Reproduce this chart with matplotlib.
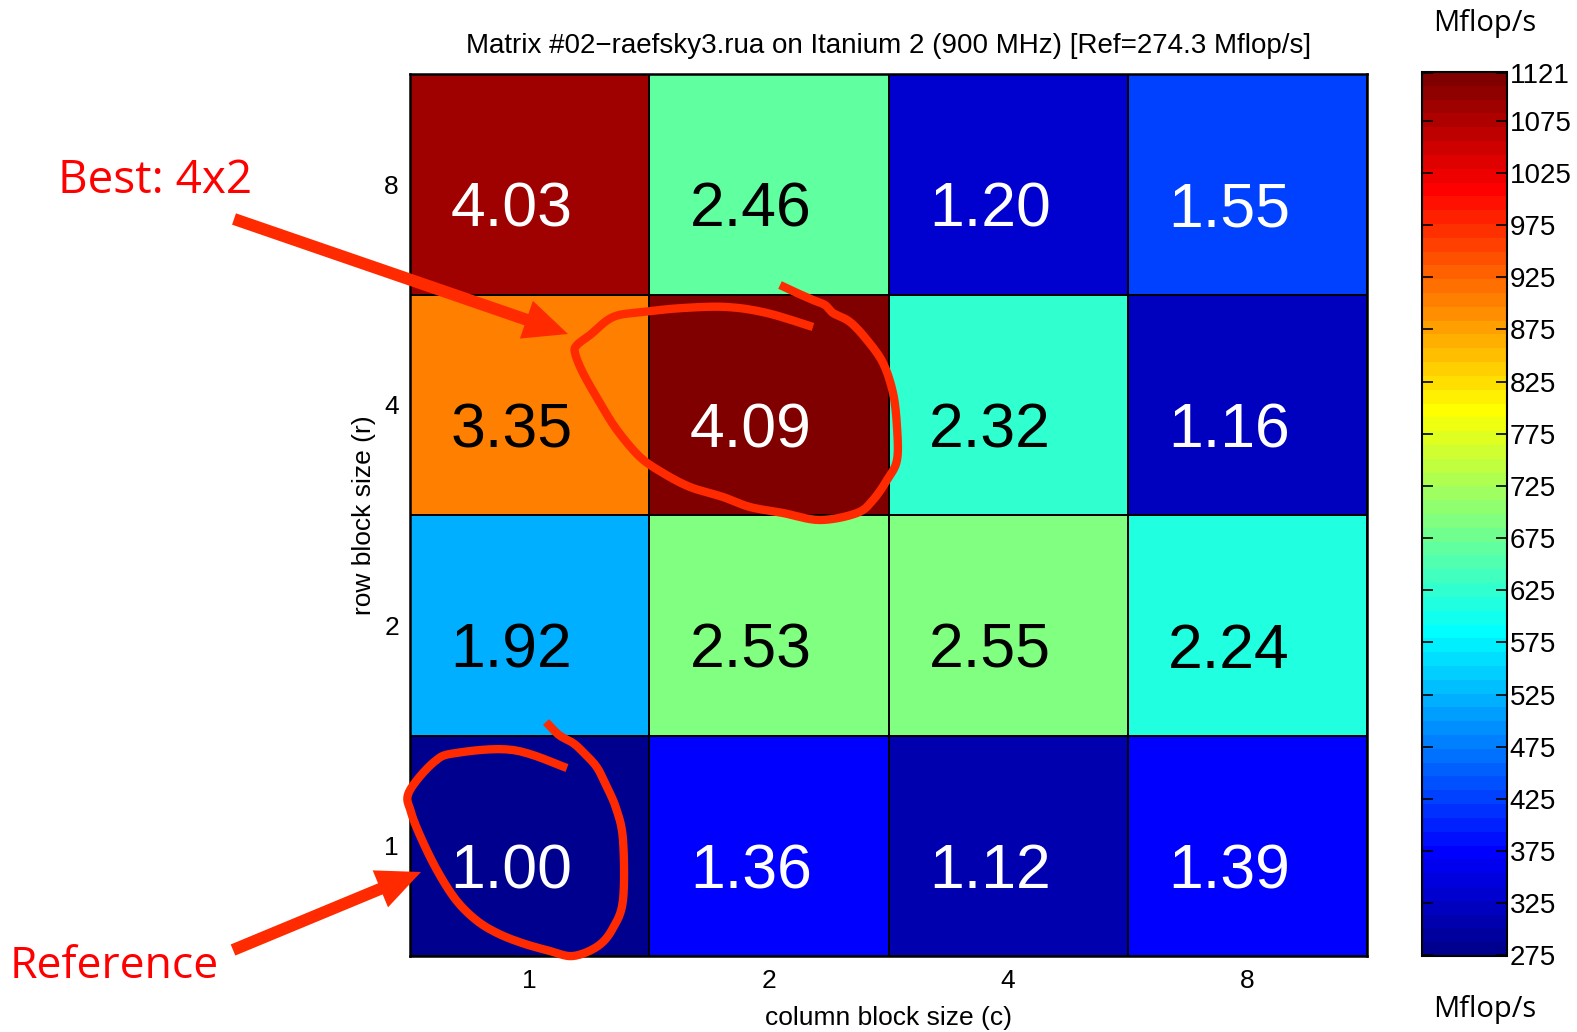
import matplotlib
matplotlib.use("Agg")
import matplotlib.pyplot as plt
import numpy as np
from matplotlib.colors import Normalize, ListedColormap
from matplotlib.cm import ScalarMappable
from matplotlib.patches import FancyArrow
from matplotlib.lines import Line2D
from matplotlib.transforms import Affine2D

# Register-blocked SpMV performance, raefsky3 on Itanium 2
ref_mflops = 274.3
row_sizes = [1, 2, 4, 8]
col_sizes = [1, 2, 4, 8]
speedup = np.array([
    [1.00, 1.36, 1.12, 1.39],   # r = 1
    [1.92, 2.53, 2.55, 2.24],   # r = 2
    [3.35, 4.09, 2.32, 1.16],   # r = 4
    [4.03, 2.46, 1.20, 1.55],   # r = 8
])
cbar_ticks = [275, 325, 375, 425, 475, 525, 575, 625, 675, 725,
              775, 825, 875, 925, 975, 1025, 1075, 1121]

title = "Matrix #02\u2212raefsky3.rua on Itanium 2 (900 MHz) [Ref=274.3 Mflop/s]"


def classic_jet(n=64):
    """64-level jet palette built the MATLAB way."""
    m = int(np.ceil(n / 4))
    u = np.concatenate([np.arange(1, m + 1) / m, np.ones(m - 1), np.arange(m, 0, -1) / m])
    g = int(np.ceil(m / 2)) - (n % 4 == 1) + np.arange(1, len(u) + 1)
    r = g + m
    b = g - m
    g = g[g <= n]
    r = r[r <= n]
    b = b[b >= 1]
    J = np.zeros((n, 3))
    J[r - 1, 0] = u[:len(r)]
    J[g - 1, 1] = u[:len(g)]
    J[b - 1, 2] = u[len(u) - len(b):]
    return ListedColormap(J)


W, H = 1577, 1032
fig = plt.figure(figsize=(W / 100, H / 100), dpi=100)
plt.rcParams["font.family"] = ["Liberation Sans", "DejaVu Sans"]

mflops = speedup * ref_mflops
n_colors = 64
cmap = classic_jet(n_colors)
vmin, vmax = mflops.min(), mflops.max()
# palette row for each cell (first row at the minimum, last at the maximum)
cell_index = np.floor((mflops - vmin) / (vmax - vmin) * (n_colors - 1)).astype(int)

ax = fig.add_axes([410 / W, 1 - 956 / H, 957 / W, 882 / H])
ax.pcolormesh(np.arange(5), np.arange(5), cell_index, cmap=cmap,
              vmin=-0.5, vmax=n_colors - 0.5, edgecolors="black", linewidth=1.3)
ax.set_xlim(0, 4)
ax.set_ylim(0, 4)
ax.set_xticks(np.arange(4) + 0.5, [str(c) for c in col_sizes])
ax.set_yticks(np.arange(4) + 0.5, [str(r) for r in row_sizes])
ax.tick_params(length=0, labelsize=19, pad=9)
ax.tick_params(axis="y", pad=8)
for s in ax.spines.values():
    s.set_linewidth(1.8)
ax.set_xlabel("column block size (c)", fontsize=19, labelpad=10)
ax.set_ylabel("row block size (r)", fontsize=19, labelpad=6)
ax.set_title(title, fontsize=20, pad=15)

for i in range(len(row_sizes)):
    for j in range(len(col_sizes)):
        r, g, b, _ = cmap(cell_index[i, j])
        lum = 0.2126 * r + 0.7152 * g + 0.0722 * b
        ax.text(j + 0.5 - 0.076, i + 0.5 - 0.118, f"{speedup[i, j]:.2f}",
                ha="center", va="center", fontsize=45,
                color="white" if lum < 0.4 else "black")

cax = fig.add_axes([1422 / W, 1 - 956 / H, 85 / W, 884 / H])
sm = ScalarMappable(norm=Normalize(vmin=vmin, vmax=vmax), cmap=cmap)
cb = fig.colorbar(sm, cax=cax, ticks=cbar_ticks)
cb.ax.set_yticklabels([str(t) for t in cbar_ticks])
cax.tick_params(axis="y", direction="in", left=True, right=True, length=8,
                width=1.2, labelsize=20, pad=2)
cb.outline.set_linewidth(1.5)

# Pixel transform (origin top-left, y downwards) for the hand annotations
pix = Affine2D().scale(1 / W, -1 / H).translate(0, 1) + fig.transFigure

fig.text(1485 / W, 1 - 23 / H, "Mflop/s", fontsize=21, family="Open Sans",
         ha="center", va="center")
fig.text(1485 / W, 1 - 1010 / H, "Mflop/s", fontsize=21, family="Open Sans",
         ha="center", va="center")

red_text = "#ff0000"
mark = "#ff2a00"
fig.text(58 / W, 1 - 193 / H, "Best: 4x2", fontsize=33, family="Open Sans",
         color=red_text, ha="left", va="baseline")
fig.text(10 / W, 1 - 978 / H, "Reference", fontsize=32, family="Open Sans",
         color=red_text, ha="left", va="baseline")

for (x0, y0), (x1, y1) in [((234, 219), (568, 334)), ((233, 950), (421, 872))]:
    arr = FancyArrow(x0, y0, x1 - x0, y1 - y0, width=12, head_width=40,
                     head_length=44, length_includes_head=True,
                     color=mark, transform=pix, linewidth=0)
    fig.add_artist(arr)


def smooth(pts, n=8):
    p = np.asarray(pts, float)
    p = np.vstack([p[0], p, p[-1]])
    out = []
    for k in range(1, len(p) - 2):
        p0, p1, p2, p3 = p[k - 1], p[k], p[k + 1], p[k + 2]
        for t in np.linspace(0, 1, n, endpoint=False):
            out.append(0.5 * ((2 * p1) + (-p0 + p2) * t +
                              (2 * p0 - 5 * p1 + 4 * p2 - p3) * t ** 2 +
                              (-p0 + 3 * p1 - 3 * p2 + p3) * t ** 3))
    out.append(p[-2])
    return np.array(out)


loop_best = [(780, 285), (797, 293), (813, 300), (825, 305), (833, 313), (850, 322),
             (867, 340), (883, 363), (893, 393), (897, 427), (897, 460), (887, 480),
             (873, 500), (857, 513), (820, 520), (783, 513), (750, 507), (723, 497),
             (690, 487), (663, 473), (640, 457), (617, 430), (600, 403), (583, 373),
             (575, 353), (577, 345), (590, 335), (613, 317), (643, 312), (683, 308),
             (727, 307), (767, 313), (813, 327)]
loop_ref = [(546, 722), (559, 735), (573, 743), (583, 752), (596, 766), (604, 781),
            (616, 808), (623, 840), (623, 900), (613, 928), (598, 946), (573, 956),
            (550, 951), (522, 943), (497, 933), (476, 920), (456, 900), (438, 872),
            (422, 840), (411, 812), (409, 792), (434, 762), (456, 753), (513, 750),
            (567, 768)]
for loop in (loop_best, loop_ref):
    s = smooth(loop)
    fig.add_artist(Line2D(s[:, 0], s[:, 1], transform=pix, color=mark, linewidth=6,
                          solid_joinstyle="round", solid_capstyle="butt"))

fig.savefig("out.png", dpi=100)
